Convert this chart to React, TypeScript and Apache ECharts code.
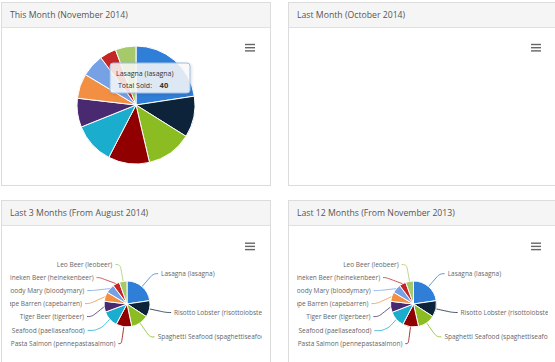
import React, { useEffect, useRef } from "react";
import * as echarts from "echarts";

const itemNames = [
  "Lasagna (lasagna)",
  "Risotto Lobster (risottolobster)",
  "Spaghetti Seafood (spaghettiseafood)",
  "Pasta Salmon (pennepastasalmon)",
  "Paella Seafood (paellaseafood)",
  "Tiger Beer (tigerbeer)",
  "Cape Barren (capebarren)",
  "Bloody Mary (bloodymary)",
  "Heineken Beer (heinekenbeer)",
  "Leo Beer (leobeer)",
];
const thisMonthSold = [40, 20, 22, 20, 20, 14, 12, 11, 8, 10];
const lastMonthSold: number[] = [];
const last3MonthsSold = [118, 60, 65, 58, 60, 40, 34, 33, 25, 28];
const last12MonthsSold = [395, 200, 215, 195, 200, 135, 115, 110, 82, 96];
const panelTitles = [
  "This Month (November 2014)",
  "Last Month (October 2014)",
  "Last 3 Months (From August 2014)",
  "Last 12 Months (From November 2013)",
];
const tooltipLabel = "Total Sold";

// style: horizontal tail length of each label connector
const connectorTail = [5, 5, 5, 3, 12, 5, 5, 5, 3, 5];

const colors = ["#2f7ed8", "#0d233a", "#8bbc21", "#910000", "#1aadce", "#492970", "#f28f43", "#77a1e5", "#c42525", "#a6c96a"];
const FONT = "'Open Sans', 'DejaVu Sans', sans-serif";

function menuIcon(w: number, top: number) {
  return [0, 1, 2].map((i) => ({
    type: "rect",
    z: 100,
    shape: { x: w - 17, y: top + i * 3.2, width: 10, height: 1.4 },
    style: { fill: "#666" },
  }));
}

function buildOption(kind: number, w: number): any {
  const tooltipMode = kind === 0;
  const values = kind === 0 ? thisMonthSold : kind === 1 ? lastMonthSold : kind === 2 ? last3MonthsSold : last12MonthsSold;
  const graphic: any[] = menuIcon(w, kind >= 2 ? 14.5 : 13.8);
  const series: any[] = [];
  if (values.length) {
    const big = kind === 0;
    series.push({
      type: "pie",
      center: big ? [126, 75] : [kind === 2 ? 117 : 116.5, 76],
      radius: big ? 59 : 23,
      startAngle: 90,
      clockwise: true,
      data: itemNames.map((n, i) => ({
        name: n,
        value: values[i],
        labelLine: big ? undefined : { length2: connectorTail[i] },
      })),
      itemStyle: { borderColor: "#fff", borderWidth: 1 },
      label: big
        ? { show: false }
        : {
            show: true,
            position: "outside",
            alignTo: "none",
            overflow: "none",
            fontFamily: FONT,
            fontSize: 6.5,
            lineHeight: 11,
            color: "#666",
            distanceToLabelLine: 3,
            formatter: "{b}",
          },
      labelLine: big
        ? { show: false }
        : { show: true, length: 17, length2: 5, smooth: 0.4, lineStyle: { width: 0.8 } },
      emphasis: { disabled: true },
    });
  }
  if (tooltipMode) {
    graphic.push({
      type: "rect",
      z: 100,
      shape: { x: 100, y: 33, width: 80, height: 30, r: 3 },
      style: { fill: "rgba(250,250,250,0.85)", stroke: "#9dbde3", lineWidth: 1, shadowBlur: 3, shadowColor: "rgba(0,0,0,0.15)", shadowOffsetX: 1, shadowOffsetY: 1 },
    });
    graphic.push({
      type: "text",
      z: 101,
      x: 106,
      y: 43.3,
      style: { text: itemNames[0], fontFamily: FONT, fontSize: 7, fill: "#333", verticalAlign: "middle" },
    });
    graphic.push({
      type: "text",
      z: 101,
      x: 108,
      y: 55,
      style: {
        text: tooltipLabel + ":  {b|" + thisMonthSold[0] + "}",
        fontFamily: FONT,
        fontSize: 7,
        fill: "#333",
        verticalAlign: "middle",
        rich: { b: { fontWeight: "bold", fontSize: 7.5, fontFamily: FONT, fill: "#333", padding: [0, 0, 0, 4] } },
      },
    });
  }
  return { animation: false, color: colors, series, graphic };
}

function ChartBox({ kind, style }: { kind: number; style: React.CSSProperties }) {
  const ref = useRef<HTMLDivElement>(null);
  useEffect(() => {
    if (!ref.current) return;
    const chart = echarts.init(ref.current, undefined, { renderer: "svg" });
    chart.setOption(buildOption(kind, ref.current.clientWidth));
    return () => chart.dispose();
  }, [kind]);
  return <div ref={ref} style={{ position: "absolute", overflow: "hidden", ...style }} />;
}

function Panel({ title, left, top, width, height }: { title: string; left: number; top: number; width: number; height: number }) {
  return (
    <div
      style={{
        position: "absolute",
        left,
        top,
        width,
        height,
        boxSizing: "border-box",
        border: "1px solid #dcdcdc",
        background: "#fff",
      }}
    >
      <div
        style={{
          height: 24,
          background: "#f5f5f5",
          borderBottom: "1px solid #e0e0e0",
          fontFamily: FONT,
          fontSize: 8.7,
          color: "#555",
          lineHeight: "24px",
          paddingLeft: 8,
          whiteSpace: "nowrap",
        }}
      >
        {title}
      </div>
    </div>
  );
}

export default function App() {
  return (
    <div style={{ position: "fixed", left: 0, top: 0, width: 555, height: 362, background: "#fff", overflow: "hidden" }}>
      <Panel title={panelTitles[0]} left={1} top={2} width={270} height={184} />
      <Panel title={panelTitles[1]} left={288} top={2} width={280} height={184} />
      <Panel title={panelTitles[2]} left={1} top={200} width={270} height={180} />
      <Panel title={panelTitles[3]} left={288} top={200} width={280} height={180} />
      <ChartBox kind={0} style={{ left: 10, top: 30, width: 252, height: 152 }} />
      <ChartBox kind={1} style={{ left: 297, top: 30, width: 251, height: 152 }} />
      <ChartBox kind={2} style={{ left: 10, top: 228, width: 252, height: 134 }} />
      <ChartBox kind={3} style={{ left: 297, top: 228, width: 251, height: 134 }} />
    </div>
  );
}
